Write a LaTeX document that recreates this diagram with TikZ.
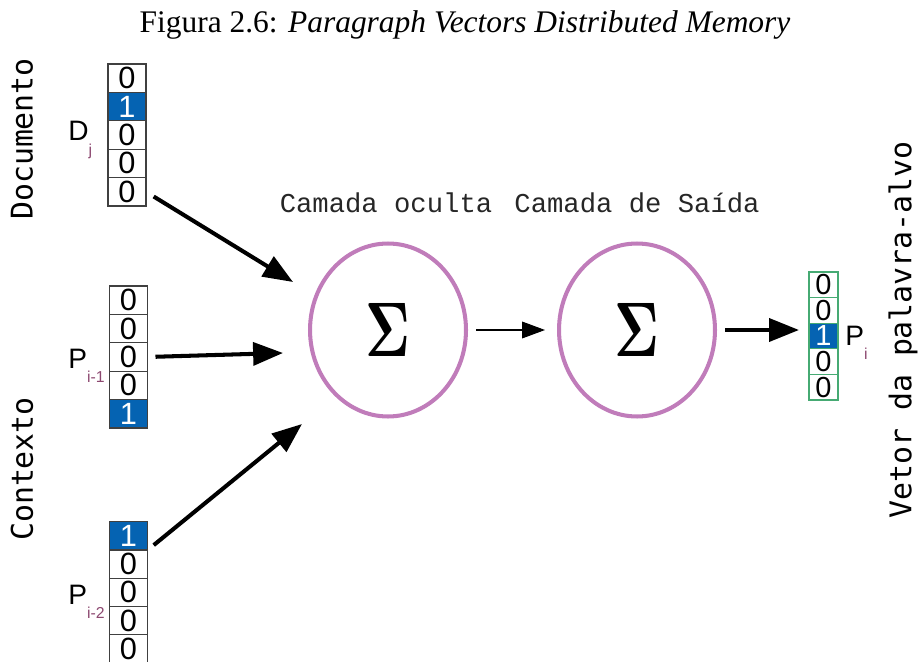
\documentclass[tikz,border=0pt]{standalone}
\usepackage{fontspec}
\setmainfont{Liberation Serif}
\setsansfont{Liberation Sans}
\setmonofont{Liberation Mono}
\newfontfamily\rotfont{DejaVu Sans Mono}
\newfontfamily\sigmafont{lmroman10-bold.otf}
\usepackage{tikz}
\usetikzlibrary{positioning, arrows.meta, shapes.geometric}
\definecolor{cellblue}{RGB}{5,99,178}
\definecolor{sumpurple}{RGB}{192,124,186}
\definecolor{subred}{RGB}{140,72,112}
\definecolor{outgreen}{RGB}{70,170,115}
\newcommand{\lowsub}[1]{\raisebox{-0.5em}{\fontsize{9}{9}\selectfont\color{subred}#1}}
\tikzset{
    cell/.style={
        draw=black!75, % 边框颜色
        fill=white,
        line width=0.6pt,
        minimum width=0.76cm,
        minimum height=0.568cm,
        inner sep=0,
        outer sep=0,
        font=\sffamily\fontsize{17.5}{17.5}\selectfont
    },
    hotcell/.style={
        cell,
        fill=cellblue, % 填充颜色为蓝色
        text=white
    },
    outcell/.style={
        cell,
        draw=outgreen, % 边框颜色为绿色
        minimum width=0.58cm,
        minimum height=0.512cm,
        font=\sffamily\fontsize{16.5}{16.5}\selectfont
    },
    outhot/.style={
        outcell,
        fill=cellblue,
        text=white
    },
    sumnode/.style={
        ellipse,
        draw=sumpurple,
        line width=2.3pt, % 边框加粗
        minimum width=3.12cm,
        minimum height=3.46cm,
        inner sep=0,
        font=\sigmafont\fontsize{44}{44}\selectfont
    },
    veclabel/.style={
        anchor=base west,
        inner sep=0,
        font=\sffamily\fontsize{16}{16}\selectfont
    },
    bigarrow/.style={
        line width=2.3pt,
        -{Triangle[length=17pt, width=13pt]}
    },
    thinarrow/.style={
        line width=0.6pt,
        -{Triangle[length=13pt, width=9.5pt]}
    }
}

\begin{document}
\begin{tikzpicture}[x=0.02cm, y=-0.02cm]
            \useasboundingbox (0,0) rectangle (919,662);
            % 标题
            \node[anchor=base, inner sep=0, font=\fontsize{17.9}{18}\selectfont] (title) at (465,33)
                {Figura 2.6: \textit{Paragraph Vectors Distributed Memory}};
            % 输入向量
            \foreach \v/\s [count=\k] in {0/cell,1/hotcell,0/cell,0/cell,0/cell}
                \node[\s] (d\k) at (127, 49.8+28.4*\k) {\v};
            \foreach \v/\s [count=\k] in {0/cell,0/cell,0/cell,0/cell,1/hotcell}
                \node[\s] (p\k) at (128.5, 271.8+28.4*\k) {\v};
            \foreach \v/\s [count=\k] in {1/hotcell,0/cell,0/cell,0/cell,0/cell}
                \node[\s] (q\k) at (128.5, 507.8+28.2*\k) {\v};
            \node[veclabel] (dlab) at (68,141) {D\lowsub{j}};
            \node[veclabel] (plab) at (68,368) {P\lowsub{i-1}};
            \node[veclabel] (qlab) at (68,604) {P\lowsub{i-2}};
            % 输出向量
            \foreach \v/\s [count=\k] in {0/outcell,0/outcell,1/outhot,0/outcell,0/outcell}
                \node[\s] (o\k) at (823.5, 259.2+25.6*\k) {\v};
            \node[veclabel] (olab) at (845,345) {P\lowsub{i}};
            % 两个求和节点
            \node[sumnode] (hid) at (388,330) {\scalebox{0.7}[1]{Σ}};
            \node[sumnode] (out) at (637,330) {\scalebox{0.7}[1]{Σ}};
            \node[font=\ttfamily\fontsize{15.5}{16}\selectfont, text=black!85, anchor=base] (hidlab) at (386,213) {Camada oculta};
            \node[font=\ttfamily\fontsize{15.5}{16}\selectfont, text=black!85, anchor=base] (outlab) at (637,213) {Camada de Saída};
            % 侧边文字
            \node[rotate=90, font=\rotfont\fontsize{17}{17}\selectfont] (doc) at (22,139) {Documento};
            \node[rotate=90, font=\rotfont\fontsize{17}{17}\selectfont] (ctx) at (22,469) {Contexto};
            \node[rotate=90, font=\rotfont\fontsize{17}{17}\selectfont] (tgt) at (903,330) {Vetor da palavra-alvo};
            % 箭头
            \coordinate (in1) at (293,282);
            \coordinate (in2) at (283,353);
            \coordinate (in3) at (302,424);
            \draw[bigarrow, shorten <=0.18cm] (d5.east) -- (in1);
            \draw[bigarrow, shorten <=0.16cm] (p3.east) -- (in2);
            \draw[bigarrow, shorten <=0.16cm] (q1.south east) -- (in3);
            \draw[thinarrow, shorten <=0.16cm, shorten >=0.24cm] (hid.east) -- (out.west);
            \draw[bigarrow, shorten <=0.16cm, shorten >=0.2cm] (out.east) -- (out.east -| o3.west);
\end{tikzpicture}
\end{document}
